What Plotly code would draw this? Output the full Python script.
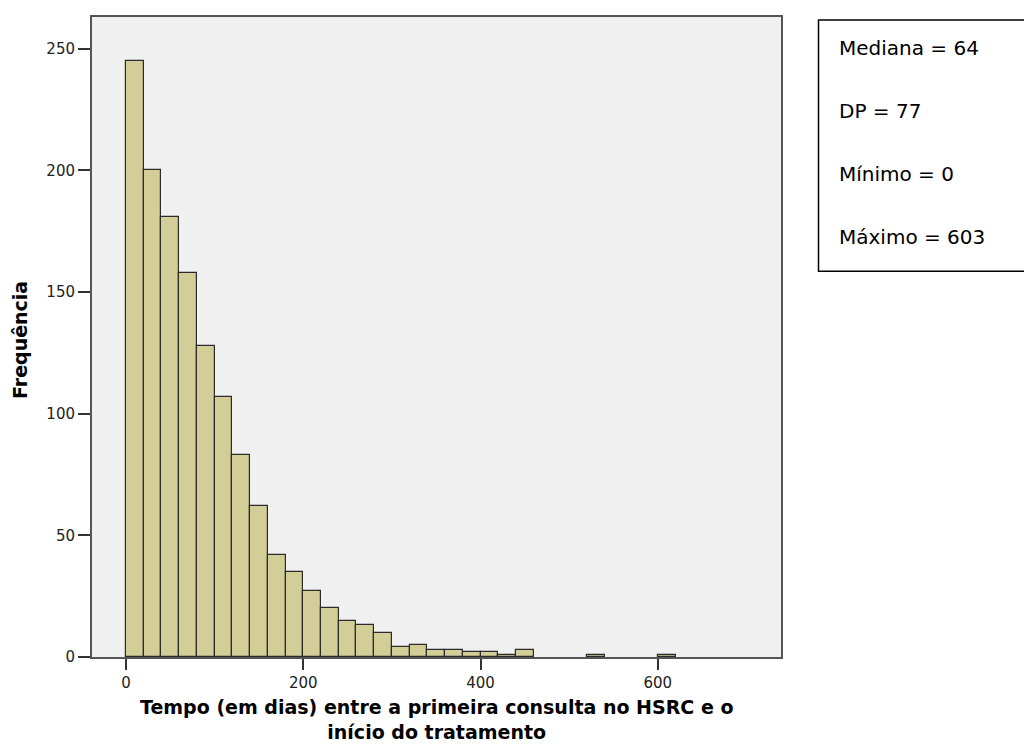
import plotly.graph_objects as go

# Histogram data (bin width = 20 days)
bin_starts = [0, 20, 40, 60, 80, 100, 120, 140, 160, 180, 200, 220, 240, 260, 280,
              300, 320, 340, 360, 380, 400, 420, 440, 520, 600]
counts = [245, 200, 181, 158, 128, 107, 83, 62, 42, 35, 27, 20, 15, 13, 10,
          4, 5, 3, 3, 2, 2, 1, 3, 1, 1]
bin_width = 20

x_ticks = [0, 200, 400, 600]
y_ticks = [0, 50, 100, 150, 200, 250]

stats_lines = ["Mediana = 64", "DP = 77", "Mínimo = 0", "Máximo = 603"]

x_title = "Tempo (em dias) entre a primeira consulta no HSRC e o<br>início do tratamento"
y_title = "Frequência"

centers = [s + bin_width / 2 for s in bin_starts]

# page has an 8px body margin; plot area spans page px x 92..781, y 15..657
PL, PR, PT, PB = 92, 781, 15, 657
PW, PH = PR - PL, PB - PT


def px_x(p):
    return (p - PL) / PW


def px_y(p):
    return (PB - p) / PH


fig = go.Figure()
fig.add_trace(go.Bar(
    x=centers, y=counts, width=bin_width,
    marker=dict(color="#D3CE97", line=dict(color="#2b2b2b", width=1.2)),
    hoverinfo="x+y",
))

fig.update_layout(
    width=1024, height=737,
    margin=dict(l=PL - 8, r=1032 - PR, t=PT - 8, b=745 - PB),
    paper_bgcolor="white",
    plot_bgcolor="#F0F0F0",
    showlegend=False,
    bargap=0,
    font=dict(family="DejaVu Sans, sans-serif", color="#222"),
)

fig.update_xaxes(
    range=[-38.4, 739], tickvals=x_ticks, ticks="outside", ticklen=11, tickwidth=1.5,
    tickcolor="#333", showgrid=False, zeroline=False,
    showline=True, mirror=True, linecolor="#555", linewidth=2,
    tickfont=dict(size=15, color="#222"),
)
fig.update_yaxes(
    range=[0, 263], tickvals=y_ticks, ticks="outside", ticklen=12, tickwidth=1.5,
    tickcolor="#333", showgrid=False, zeroline=False,
    showline=True, mirror=True, linecolor="#555", linewidth=2,
    tickfont=dict(size=15, color="#222"),
)

# Axis titles
fig.add_annotation(
    text=x_title, xref="paper", yref="paper", x=0.5, y=px_y(694),
    xanchor="center", yanchor="top", showarrow=False, align="center",
    font=dict(family="DejaVu Sans, Verdana, sans-serif", size=19, color="black", weight="bold"),
)
fig.add_annotation(
    text=y_title, xref="paper", yref="paper", x=px_x(20), y=px_y(339),
    xanchor="center", yanchor="middle", showarrow=False, textangle=-90,
    font=dict(family="DejaVu Sans, Verdana, sans-serif", size=19, color="black", weight="bold"),
)

# Statistics box
fig.add_shape(type="rect", xref="paper", yref="paper",
              x0=px_x(818.5), x1=px_x(1100), y0=px_y(270), y1=px_y(18),
              line=dict(color="black", width=1.5), fillcolor="white", layer="above")
line_px = [46, 109, 172, 236]
for txt, py in zip(stats_lines, line_px):
    fig.add_annotation(
        text=txt, xref="paper", yref="paper",
        x=px_x(837), y=px_y(py),
        xanchor="left", yanchor="middle", showarrow=False,
        font=dict(family="DejaVu Sans, sans-serif", size=20, color="black"),
    )

fig.write_html("out.html")
